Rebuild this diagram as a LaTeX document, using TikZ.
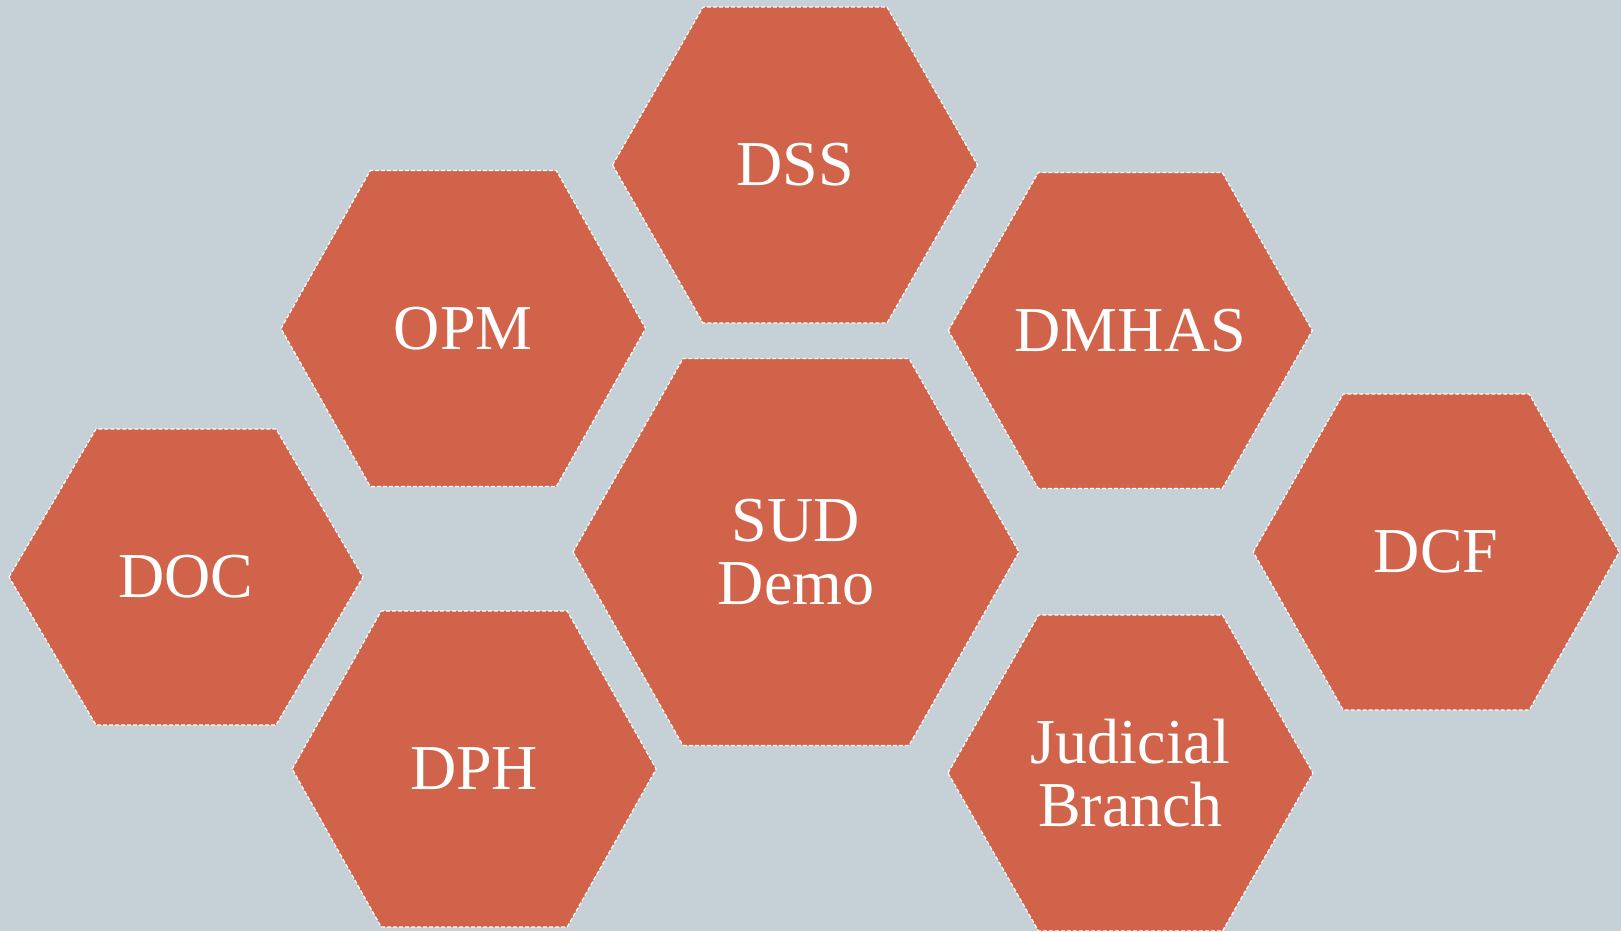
\documentclass[tikz,border=0pt]{standalone}
\usepackage{fontspec}
\setmainfont{Liberation Serif}
\definecolor{bgcol}{RGB}{197,209,215}
\definecolor{hexcol}{RGB}{208,99,74}
\newcommand\myhex[7]{% name, cx, cy, R, h, t, text
  \path[hexshape] ({#2-#4},#3) -- ({#2-#6},{#3-#5}) -- ({#2+#6},{#3-#5}) -- ({#2+#4},#3)
    -- ({#2+#6},{#3+#5}) -- ({#2-#6},{#3+#5}) -- cycle;
  \node[hexlabel] (#1) at (#2,#3) {#7};
}
\begin{document}
\begin{tikzpicture}[x=1pt,y=-1pt,
  hexshape/.style={fill=hexcol,draw=white,line width=1.2pt,dash pattern=on 4pt off 2pt,line join=round},
  hexlabel/.style={text=white,font=\fontsize{64}{63}\selectfont,align=center,inner sep=0pt}]
\fill[bgcol] (0,0) rectangle (1621,931);
\useasboundingbox (0,0) rectangle (1621,931);
\myhex{dss}{795}{165}{182.5}{158}{92}{DSS}
\myhex{opm}{463.3}{328.5}{182.3}{158}{93}{OPM}
\myhex{dmhas}{1130.3}{330.5}{182}{158}{92}{DMHAS}
\myhex{sud}{796}{552}{223}{193.5}{113}{SUD\\Demo}
\myhex{doc}{186}{577}{177}{148}{90}{DOC}
\myhex{dph}{474.2}{769}{182}{158}{93}{DPH}
\myhex{dcf}{1436.2}{552}{183}{158}{93}{DCF}
\myhex{jud}{1130.5}{773}{182.5}{158}{92}{Judicial\\Branch}
\end{tikzpicture}
\end{document}
